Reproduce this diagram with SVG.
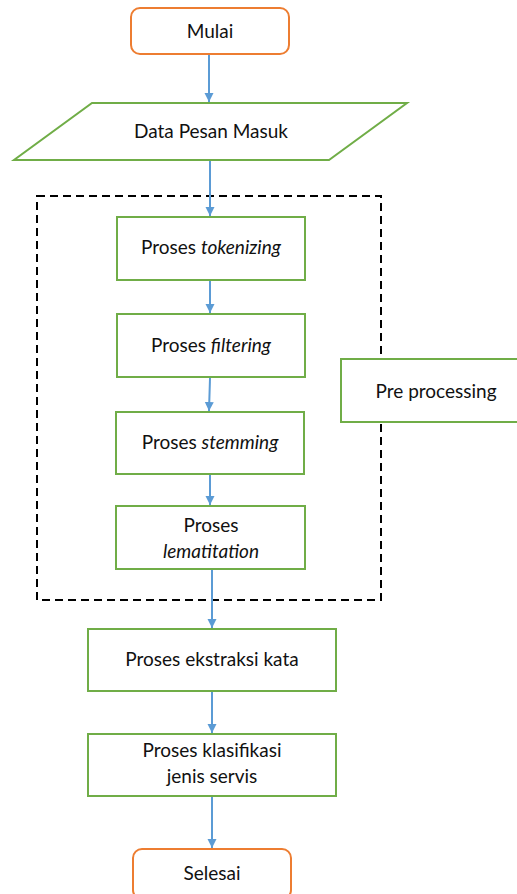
<svg xmlns="http://www.w3.org/2000/svg" width="517" height="894" viewBox="0 0 517 894">
<style>
text{font-family:Lato,"Open Sans","Liberation Sans",sans-serif;font-size:19px;fill:#111;text-anchor:middle}
.g{fill:#fff;stroke:#70AD47;stroke-width:2}
.o{fill:#fff;stroke:#ED7D31;stroke-width:2}
.c{stroke:#5B9BD5;stroke-width:2;fill:none;marker-end:url(#ah)}
.i{font-style:italic}
</style>
<defs>
<marker id="ah" markerWidth="10" markerHeight="10" refX="9" refY="5" orient="auto" markerUnits="userSpaceOnUse">
<path d="M0,0.5 L9,5 L0,9.5 Z" fill="#5B9BD5"/>
</marker>
</defs>
<g id="preprocessing-group">
<rect x="37" y="196" width="344" height="404" fill="none" stroke="#000" stroke-width="2" stroke-dasharray="8,5"/>
</g>
<g id="connectors">
<line class="c" x1="209" y1="55" x2="209" y2="102"/>
<line class="c" x1="210" y1="161" x2="210" y2="216"/>
<line class="c" x1="210" y1="281" x2="210" y2="313"/>
<line class="c" x1="210" y1="378" x2="209" y2="411"/>
<line class="c" x1="210" y1="475" x2="210" y2="505"/>
<line class="c" x1="212" y1="570" x2="212" y2="628"/>
<line class="c" x1="212" y1="692" x2="212" y2="733"/>
<line class="c" x1="212" y1="797" x2="212" y2="848"/>
</g>
<g id="mulai">
<rect class="o" x="131" y="8" width="158" height="46" rx="9"/>
<text x="210" y="38">Mulai</text>
</g>
<g id="data-pesan">
<polygon class="g" points="92,103 407,103 329,160 14,160"/>
<text x="211" y="138">Data Pesan Masuk</text>
</g>
<g id="tokenizing">
<rect class="g" x="117" y="217" width="188" height="63"/>
<text x="211" y="254">Proses <tspan class="i">tokenizing</tspan></text>
</g>
<g id="filtering">
<rect class="g" x="117" y="314" width="188" height="63"/>
<text x="211" y="352">Proses <tspan class="i">filtering</tspan></text>
</g>
<g id="stemming">
<rect class="g" x="116" y="412" width="188" height="62"/>
<text x="210" y="449">Proses <tspan class="i">stemming</tspan></text>
</g>
<g id="lematitation">
<rect class="g" x="116" y="506" width="189" height="63"/>
<text x="211" y="532">Proses</text>
<text x="211" y="558" class="i">lematitation</text>
</g>
<g id="pre-processing">
<rect class="g" x="341" y="359" width="180" height="63"/>
<text x="436" y="398">Pre processing</text>
</g>
<g id="ekstraksi">
<rect class="g" x="88" y="629" width="248" height="62"/>
<text x="212" y="666">Proses ekstraksi kata</text>
</g>
<g id="klasifikasi">
<rect class="g" x="88" y="734" width="248" height="62"/>
<text x="212" y="757">Proses klasifikasi</text>
<text x="212" y="783">jenis servis</text>
</g>
<g id="selesai">
<rect class="o" x="133" y="849" width="158" height="50" rx="9"/>
<text x="212" y="880">Selesai</text>
</g>
</svg>
